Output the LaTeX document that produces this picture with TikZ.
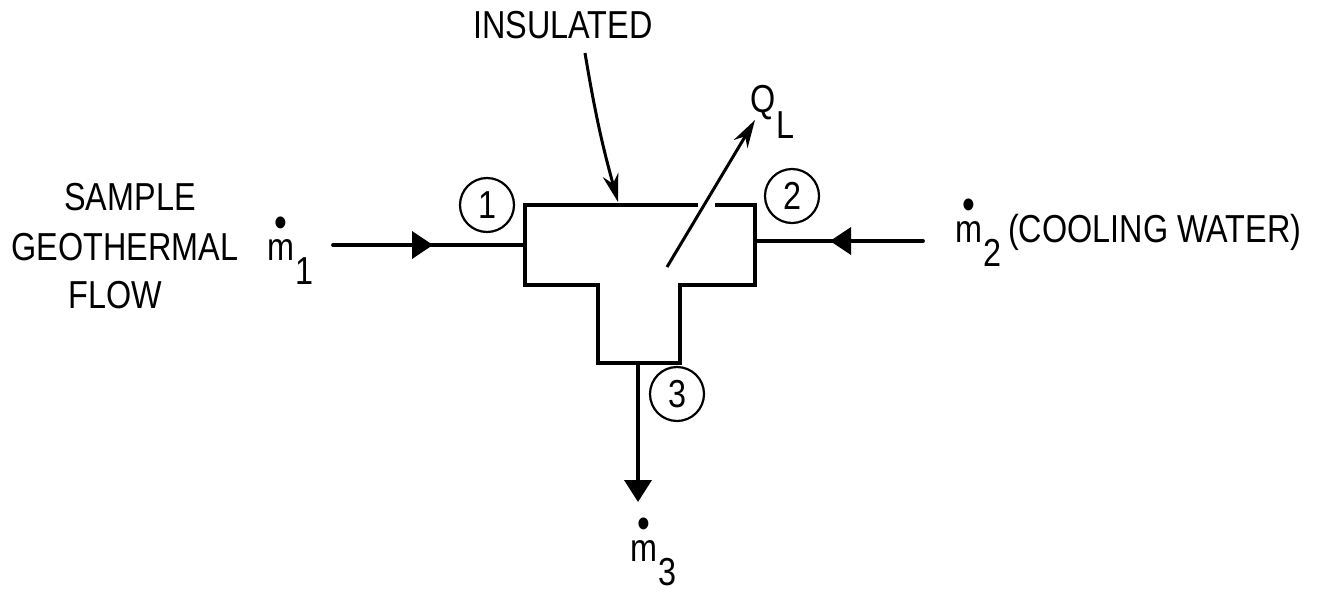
\documentclass[tikz,border=0pt]{standalone}
\usepackage{fontspec}
\setmainfont{Liberation Sans}[FakeStretch=0.83]
\usetikzlibrary{arrows.meta,decorations.markings}
\newcommand\mflow[1]{\setbox0\hbox{m}\rlap{\hbox to\wd0{\hss\raisebox{23pt}{\fontsize{44}{44}\selectfont\textbullet}\hss}}m\kern1pt\raisebox{-24pt}{#1}}
\begin{document}
\begin{tikzpicture}[x=1pt,y=-1pt,
  lbl/.style={font=\fontsize{39}{49}\selectfont, inner sep=0pt},
  tee/.style={line width=3.2pt, line join=miter},
  flowline/.style={line width=3.8pt, line cap=round},
  lead/.style={line width=3pt, -{Stealth[length=28pt,width=16pt,inset=9pt]}},
  circ/.style={circle, draw, line width=2.2pt, minimum size=54pt, inner sep=0pt, font=\fontsize{39}{39}\selectfont},
  fhead/.style={decoration={markings, mark=at position #1 with {\arrow{Triangle[length=21pt,width=27pt]}}}, postaction=decorate}
]
\useasboundingbox (0,0) rectangle (1333,595);

% T-shaped mixing chamber
\draw[tee] (698,205) -- (525,205) -- (525,285) -- (598,285) -- (598,363) -- (680,363)
  -- (680,285) -- (755,285) -- (755,205) -- (715,205);
\coordinate (Tleft) at (525,245);
\coordinate (Tright) at (755,241);
\coordinate (Tbot) at (638,363);
\coordinate (Ttop) at (618,202);
\coordinate (Tcenter) at (667,267);

% labels
\node[lbl, anchor=base] (lsample) at (130,210) {SAMPLE};
\node[lbl, anchor=base] (lgeo) at (125,260) {GEOTHERMAL};
\node[lbl, anchor=base] (lflow) at (115,308) {FLOW};
\node[lbl, anchor=base] (lins) at (563,38) {INSULATED};
\node[lbl, anchor=base west] (m1) at (267,260) {\mflow{1}};
\node[lbl, anchor=base west] (m2) at (955,242) {\mflow{2}\kern7pt(COOLING WATER)};
\node[lbl, anchor=base west] (m3) at (630,561) {\mflow{3}};
\node[lbl, anchor=base west] (ql) at (750,112) {Q\kern1pt\raisebox{-26pt}{L}};

% state circles
\node[circ] (c1) at (487,205) {1};
\node[circ] (c2) at (792,196) {2};
\node[circ] (c3) at (677,394) {3};

% flows
\coordinate (in1) at (333,245);
\coordinate (in2) at (923,241);
\coordinate (out3) at (638,502);
\coordinate (insA) at (585,53);
\coordinate (qtip) at (755,120);
\draw[flowline, fhead=100pt] (in1) -- (Tleft);
\draw[flowline, fhead=93pt] (in2) -- (Tright);
\draw[flowline, line cap=butt, -{Triangle[length=22pt,width=27pt]}] (Tbot) -- (out3);
\draw[lead] (insA) to[bend right=3] (Ttop);
\draw[lead] (Tcenter) -- (qtip);
\end{tikzpicture}
\end{document}
